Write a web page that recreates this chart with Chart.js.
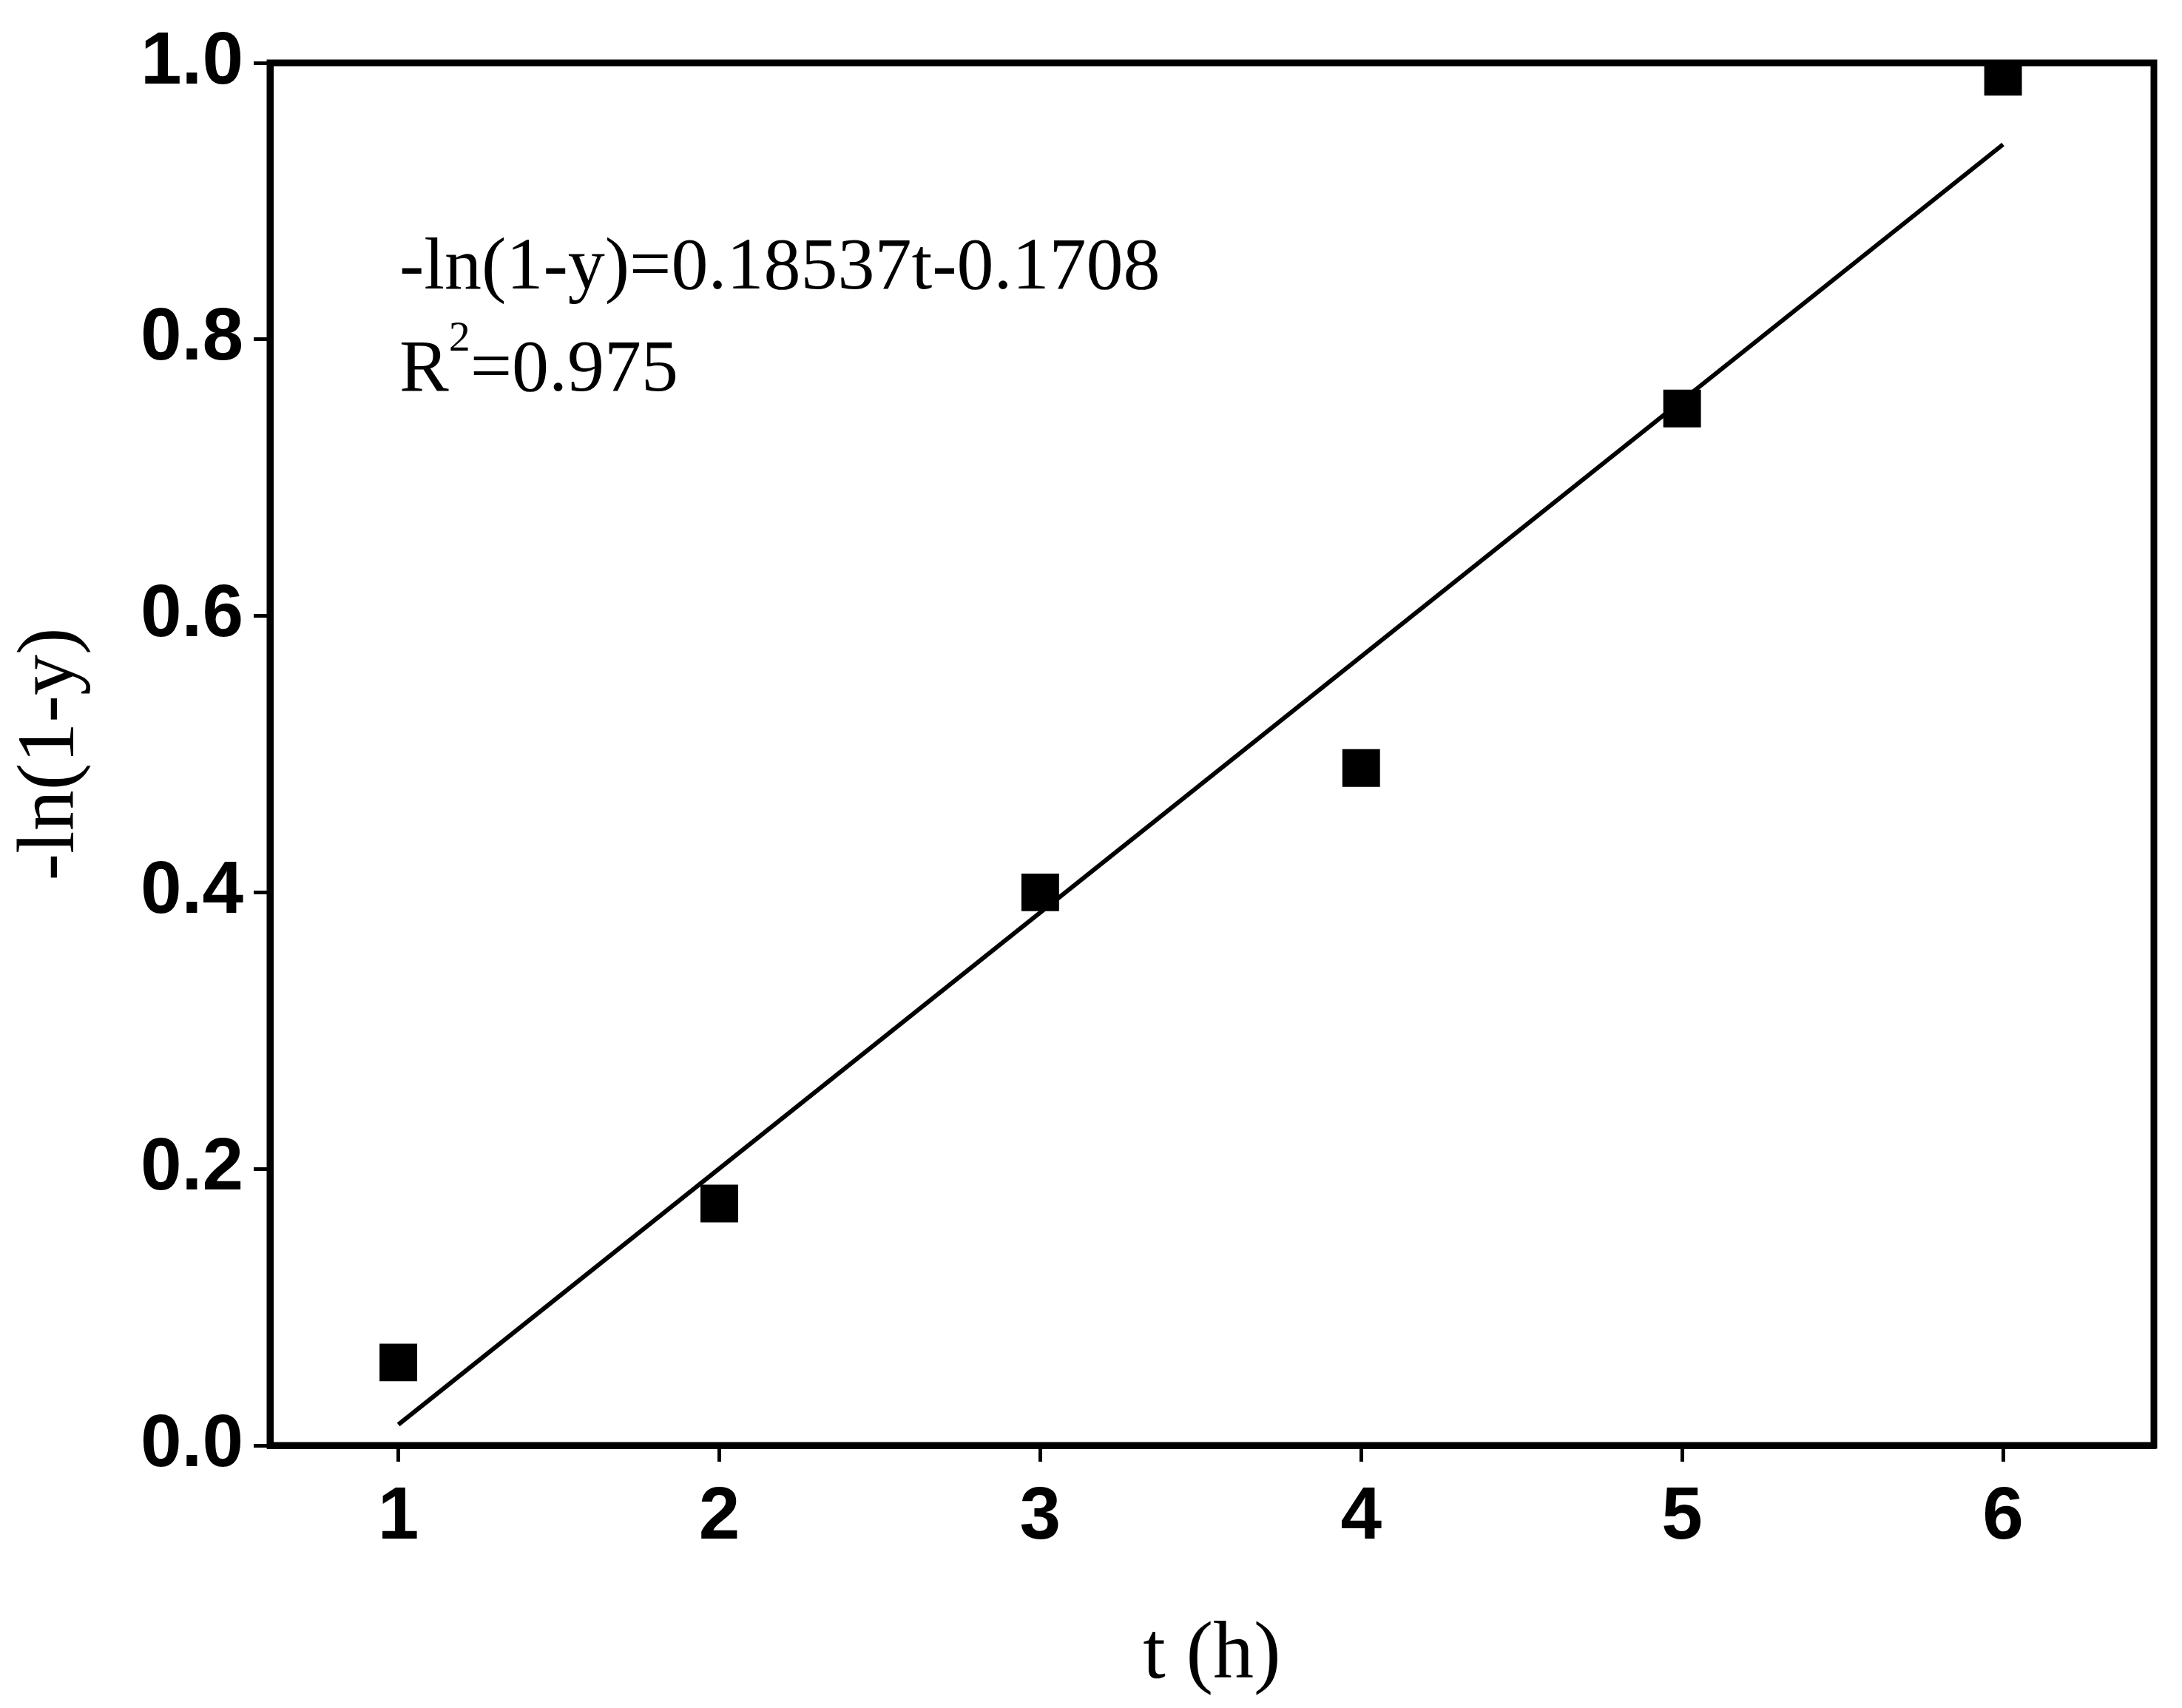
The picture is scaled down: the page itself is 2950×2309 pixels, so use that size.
<!DOCTYPE html>
<html>
<head>
<meta charset="utf-8">
<script src="https://cdn.jsdelivr.net/npm/chart.js@4/dist/chart.umd.min.js"></script>
<style>
  html, body { margin: 0; padding: 0; background: #fff; }
  #wrap { width: 2950px; height: 2309px; }
</style>
</head>
<body>
<div id="wrap"><canvas id="c"></canvas></div>
<script>
// Data
const tValues = [1, 2, 3, 4, 5, 6];
const lnValues = [0.06, 0.175, 0.40, 0.49, 0.75, 0.99];
const fitT = [1, 6];
const fitValues = [0.015, 0.941];
const xTicks = [1, 2, 3, 4, 5, 6];
const yTicks = [0, 0.2, 0.4, 0.6, 0.8, 1.0];

const frame = {
    id: 'frame',
    afterDraw(chart) {
        const { ctx, chartArea: a } = chart;
        ctx.save();
        ctx.strokeStyle = '#000';
        ctx.lineWidth = 9;
        ctx.strokeRect(a.left, a.top, a.right - a.left, a.bottom - a.top);
        ctx.fillStyle = '#000';
        ctx.font = '100px "Liberation Serif", serif';
        ctx.textBaseline = 'alphabetic';
        ctx.fillText('-ln(1-y)=0.18537t-0.1708', 540, 390);
        ctx.fillText('R', 540, 528);
        const rw = ctx.measureText('R').width;
        ctx.font = '58px "Liberation Serif", serif';
        ctx.fillText('2', 540 + rw, 474);
        const sw = ctx.measureText('2').width;
        ctx.font = '100px "Liberation Serif", serif';
        ctx.fillText('=0.975', 540 + rw + sw, 528);
        ctx.restore();
    }
};

new Chart(document.getElementById('c'), {
    type: 'scatter',
    data: {
        datasets: [
            {
                data: tValues.map((t, i) => ({ x: t, y: lnValues[i] })),
                pointStyle: 'rect',
                pointRadius: 36,
                backgroundColor: '#000',
                borderColor: '#000',
                borderWidth: 0
            },
            {
                type: 'line',
                data: fitT.map((t, i) => ({ x: t, y: fitValues[i] })),
                borderColor: '#000',
                borderWidth: 6,
                pointRadius: 0,
                fill: false
            }
        ]
    },
    options: {
        responsive: true,
        maintainAspectRatio: false,
        animation: false,
        layout: { padding: { top: 85, right: 38 } },
        plugins: { legend: { display: false }, tooltip: { enabled: false } },
        scales: {
            x: {
                type: 'linear',
                min: 0.6,
                max: 6.47,
                afterBuildTicks: axis => { axis.ticks = xTicks.map(v => ({ value: v })); },
                afterFit: axis => { axis.height = 355; },
                grid: { drawOnChartArea: false, drawTicks: true, tickLength: 22, tickColor: '#000', lineWidth: 5 },
                border: { display: true, color: '#000', width: 9 },
                ticks: { color: '#000', padding: 16, font: { family: 'Liberation Sans', weight: 'bold', size: 100 } },
                title: { display: true, text: 't (h)', color: '#000', padding: { top: 30 }, font: { family: 'Liberation Serif', size: 110 } }
            },
            y: {
                min: 0,
                max: 1.0,
                afterBuildTicks: axis => { axis.ticks = yTicks.map(v => ({ value: v })); },
                afterFit: axis => { axis.width = 365; },
                grid: { drawOnChartArea: false, drawTicks: true, tickLength: 22, tickColor: '#000', lineWidth: 5 },
                border: { display: true, color: '#000', width: 9 },
                ticks: { color: '#000', padding: 14, callback: v => v.toFixed(1), font: { family: 'Liberation Sans', weight: 'bold', size: 100 } },
                title: { display: true, text: '-ln(1-y)', color: '#000', padding: { bottom: 10 }, font: { family: 'Liberation Serif', size: 110 } }
            }
        }
    },
    plugins: [frame]
});
</script>
</body>
</html>
